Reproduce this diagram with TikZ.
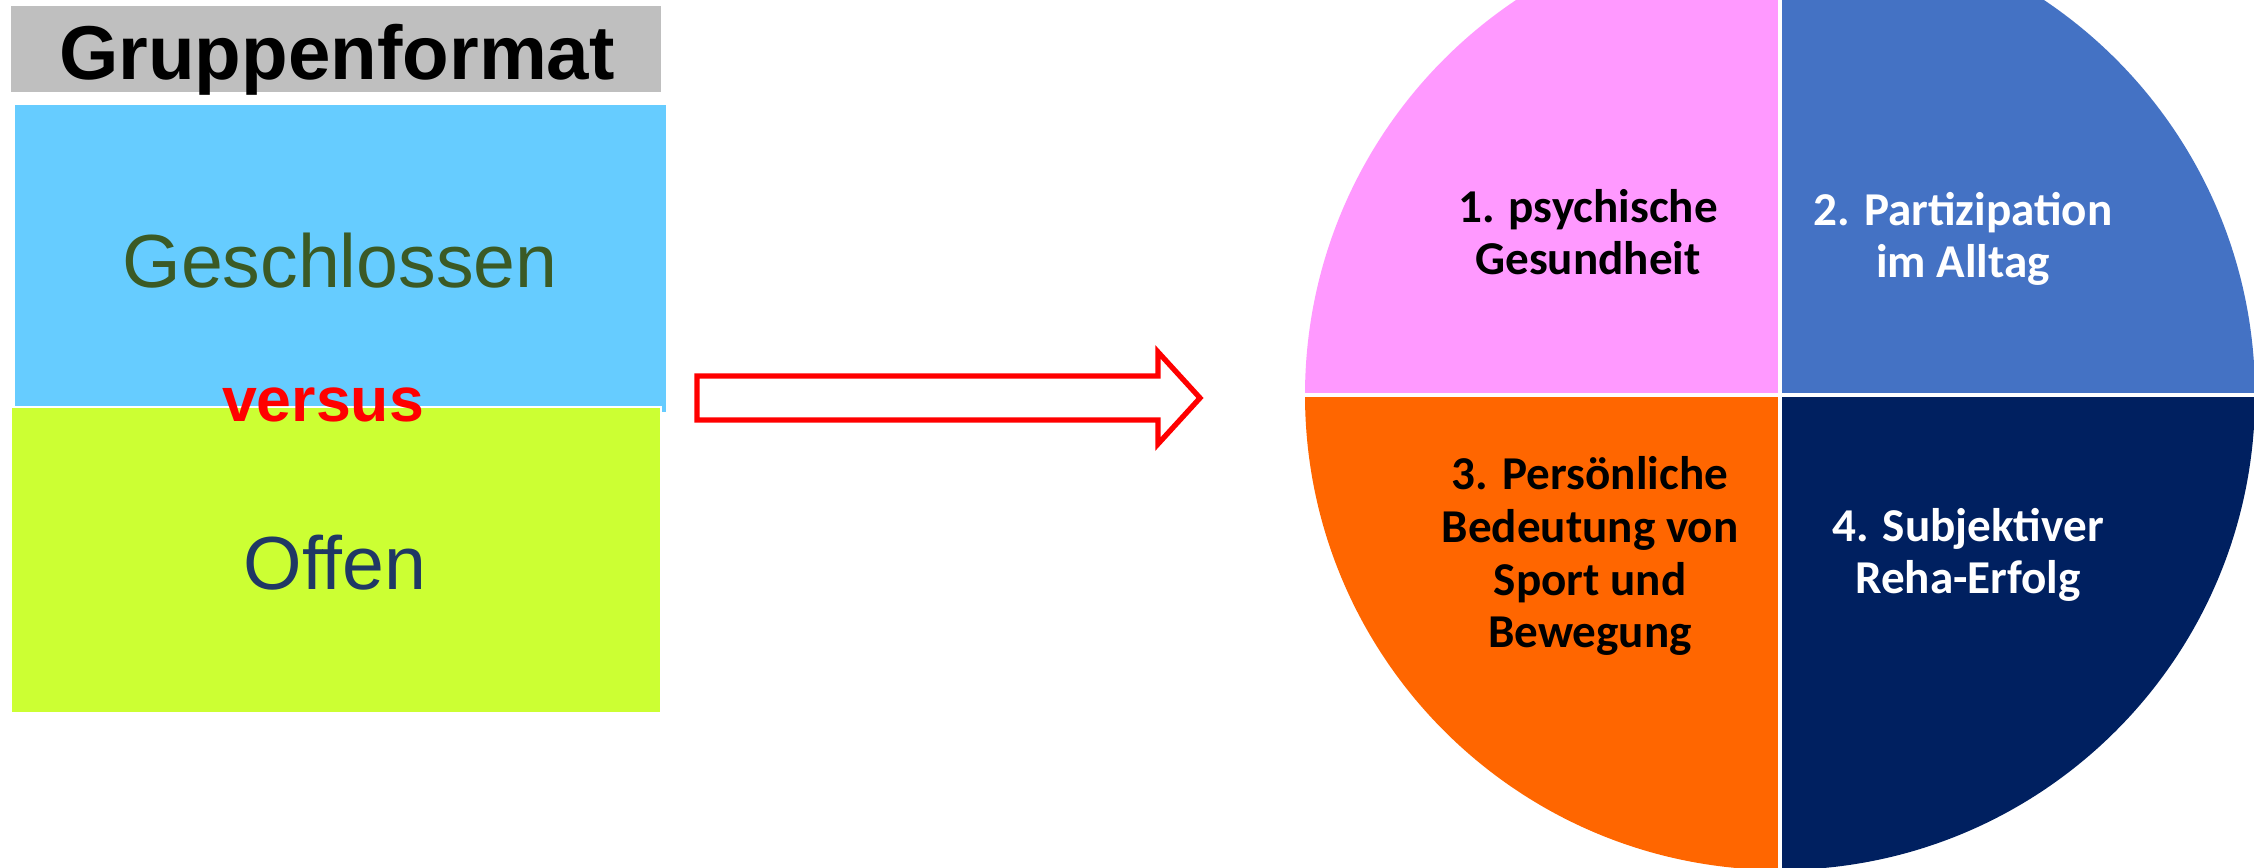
\documentclass[tikz,border=0pt]{standalone}
\usepackage{fontspec}
\setmainfont{Liberation Sans}
\newfontfamily\calfont{Carlito}
\definecolor{headgray}{HTML}{BFBFBF}
\definecolor{closedblue}{HTML}{66CCFF}
\definecolor{openlime}{HTML}{CCFF33}
\definecolor{closedgreen}{HTML}{3B5A25}
\definecolor{opennavy}{HTML}{1F3864}
\definecolor{qpink}{HTML}{FF99FF}
\definecolor{qblue}{HTML}{4472C4}
\definecolor{qorange}{HTML}{FF6600}
\definecolor{qnavy}{HTML}{002060}
\begin{document}
\begin{tikzpicture}[x=0.01cm,y=-0.01cm,
  bigword/.style={anchor=base,inner sep=0pt,font=\fontsize{21.4}{26}\selectfont},
  quadtext/.style={anchor=base,inner sep=0pt,align=center,
    font=\calfont\bfseries\fontsize{13.4}{15}\selectfont}]
\path[clip,use as bounding box] (0,0) rectangle (2254,868);
% Gruppenformat
\fill[headgray] (11,6) rectangle (661,92);
\fill[closedblue] (15,105) rectangle (666,412);
\filldraw[openlime,draw=white,line width=0.6pt] (11,407) rectangle (661,713);
\node[bigword,font=\bfseries\fontsize{21.7}{26}\selectfont] (titel) at (337,80) {Gruppenformat};
\node[bigword,text=closedgreen] (geschl) at (340,288) {Geschlossen};
\node[bigword,text=opennavy] (offen) at (335,590) {Offen};
\node[anchor=base,inner sep=0pt,text=red,
  font=\bfseries\fontsize{17.8}{22}\selectfont] (versus) at (323,422) {versus};
% Pfeil
\draw[red,line width=1.5pt,fill=white] (697,376) -- (1158,376) -- (1158,352)
  -- (1200,398) -- (1158,444) -- (1158,420) -- (697,420) -- cycle;
% Kreis
\coordinate (M) at (1780,395);
\fill[qpink]   (M) -- ++(180:475) arc[start angle=180,end angle=270,radius=475] -- cycle;
\fill[qblue]   (M) -- ++(270:475) arc[start angle=270,end angle=360,radius=475] -- cycle;
\fill[qnavy]   (M) -- ++(0:475)   arc[start angle=0,end angle=90,radius=475] -- cycle;
\fill[qorange] (M) -- ++(90:475)  arc[start angle=90,end angle=180,radius=475] -- cycle;
\draw[white,line width=1.1pt] (M) ++(0,-480) -- ++(0,960);
\draw[white,line width=1.1pt] (M) ++(-480,0) -- ++(960,0);
\node[quadtext] (psych) at (1588,275) {1. psychische\\Gesundheit};
\node[quadtext,text=white] (partiz) at (1963,278) {2. Partizipation\\im Alltag};
\node[quadtext] (sport) at (1590,648) {3. Persönliche\\Bedeutung von\\Sport und\\Bewegung};
\node[quadtext,text=white] (reha) at (1968,594) {4. Subjektiver\\Reha-Erfolg};
\end{tikzpicture}
\end{document}
